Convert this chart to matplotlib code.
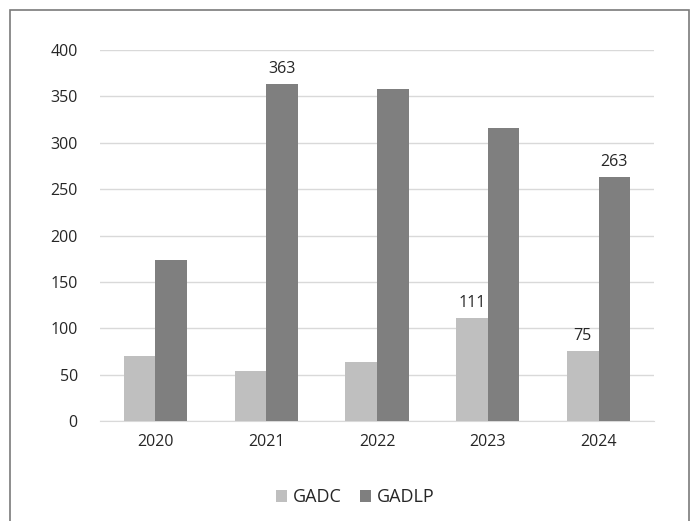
import matplotlib

matplotlib.use("Agg")
import matplotlib.pyplot as plt
import numpy as np
from matplotlib.patches import Rectangle

years = ["2020", "2021", "2022", "2023", "2024"]
gadc = [70, 54, 64, 111, 75]
gadlp = [174, 363, 358, 316, 263]
# labels shown on the chart (None = no label)
gadc_labels = [None, None, None, "111", "75"]
gadlp_labels = [None, "363", None, None, "263"]

plt.rcParams["font.family"] = ["Open Sans", "DejaVu Sans"]
TXT = "#262626"

fig = plt.figure(figsize=(6.92, 5.21), dpi=100)
fig.patches.append(
    Rectangle((10 / 692, -0.1), 679 / 692, 1.1 - 9.5 / 521, transform=fig.transFigure,
              fill=False, edgecolor="#7a7a7a", linewidth=1.2)
)
ax = fig.add_axes([100 / 692, 100 / 521, 554 / 692, 371 / 521])

x = np.arange(len(years))
w = 0.285
b1 = ax.bar(x - w / 2, gadc, w, color="#bfbfbf", label="GADC", zorder=3)
b2 = ax.bar(x + w / 2, gadlp, w, color="#7f7f7f", label="GADLP", zorder=3)

for bars, labels in ((b1, gadc_labels), (b2, gadlp_labels)):
    for bar, lab in zip(bars, labels):
        if lab:
            ax.text(bar.get_x() + bar.get_width() / 2, bar.get_height() + 8, lab,
                    ha="center", va="bottom", fontsize=11.5, color=TXT)

ax.set_xlim(-0.5, 4.5)
ax.set_ylim(0, 400)
ax.set_yticks(range(0, 401, 50))
ax.set_xticks(x)
ax.set_xticklabels(years)
ax.grid(axis="y", color="#d9d9d9", linewidth=1, zorder=0)
for s in ["top", "right", "left"]:
    ax.spines[s].set_visible(False)
ax.spines["bottom"].set_color("#d9d9d9")
ax.tick_params(length=0, labelsize=11.5, colors=TXT)
ax.tick_params(axis="x", pad=9)
ax.tick_params(axis="y", pad=16)

fig.legend(handles=[b1, b2], loc="center", bbox_to_anchor=(355 / 692, 1 - 497 / 521),
           ncol=2, frameon=False, fontsize=13, handlelength=0.65, handleheight=0.65,
           handletextpad=0.3, columnspacing=1.0, labelcolor=TXT)

plt.savefig("out.png", dpi=100)
